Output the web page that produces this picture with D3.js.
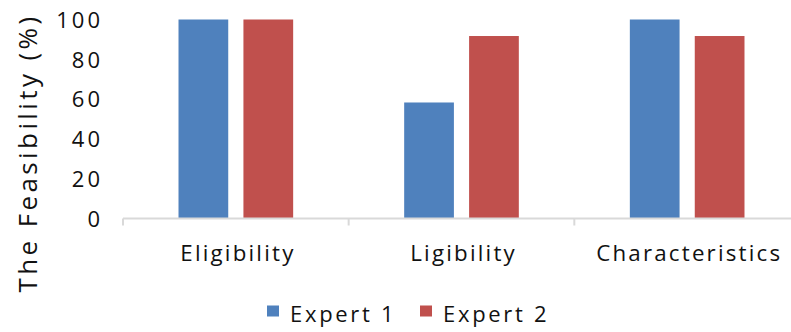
<!DOCTYPE html>
<html>
<head>
<meta charset="utf-8">
<script src="https://cdn.jsdelivr.net/npm/d3@7"></script>
<style>
  html, body { margin: 0; padding: 0; background: #fff; }
  svg { display: block; }
  text { font-family: "Open Sans", "Noto Sans", sans-serif; fill: #111; }
</style>
</head>
<body>
<div id="chart"></div>
<script>
// Feasibility ratings given by two experts for each criterion
const categories = ["Eligibility", "Ligibility", "Characteristics"];
const seriesNames = ["Expert 1", "Expert 2"];
const expert1 = [100, 58.3, 100];
const expert2 = [100, 91.7, 91.7];
const yTicks = [0, 20, 40, 60, 80, 100];
const colors = ["#4F81BD", "#C0504D"];

const W = 791, H = 332;
const svg = d3.select("#chart").append("svg")
  .attr("width", W).attr("height", H);

const x0 = d3.scaleBand().domain(categories).range([123, 800]).paddingInner(0).paddingOuter(0);
const x1 = d3.scaleBand().domain(seriesNames).range([0, x0.bandwidth()])
  .paddingInner(0.234).paddingOuter(0.855);
const y = d3.scaleLinear().domain([0, 100]).range([218.5, 19.5]);

const rows = categories.map((c, i) => ({ cat: c, vals: [expert1[i], expert2[i]] }));

// bars
const g = svg.append("g");
rows.forEach(r => {
  r.vals.forEach((v, j) => {
    g.append("rect")
      .attr("x", x0(r.cat) + x1(seriesNames[j]))
      .attr("y", y(v))
      .attr("width", x1.bandwidth())
      .attr("height", y(0) - y(v))
      .attr("fill", colors[j]);
  });
});

// x axis line with category separators
const xAxis = svg.append("g").attr("transform", `translate(0,${y(0)})`)
  .call(d3.axisBottom(x0).tickSize(0).tickFormat(""));
xAxis.select(".domain").attr("stroke", "#D9D9D9").attr("stroke-width", 2)
  .attr("d", `M${x0.range()[0]},0H${x0.range()[1]}`);
const sep = categories.map(c => x0(c));
xAxis.selectAll(".sep").data(sep).join("line")
  .attr("x1", d => d).attr("x2", d => d).attr("y1", 0).attr("y2", 7)
  .attr("stroke", "#D9D9D9").attr("stroke-width", 2);

// category labels
const catLS = 2.2;
svg.append("g").selectAll("text").data(categories).join("text")
  .attr("x", d => x0(d) + x0.bandwidth() / 2 + catLS / 2 + 1)
  .attr("y", 261)
  .attr("text-anchor", "middle")
  .style("font-size", "22.3px")
  .style("letter-spacing", catLS + "px")
  .text(d => d);

// y tick labels (no axis line)
const tickLS = 3;
const yAxis = svg.append("g").attr("transform", `translate(${100 + tickLS},0)`)
  .call(d3.axisLeft(y).tickValues(yTicks).tickSize(0).tickPadding(0));
yAxis.select(".domain").remove();
yAxis.selectAll("text")
  .style("font-size", "22px")
  .style("letter-spacing", tickLS + "px")
  .style("font-family", "'Open Sans', sans-serif")
  .attr("fill", "#111")
  .attr("dy", "0.35em");

// y axis title
svg.append("text")
  .attr("transform", `translate(37,${153}) rotate(-90)`)
  .attr("text-anchor", "middle")
  .style("font-size", "26px")
  .style("letter-spacing", "3.4px")
  .text("The Feasibility (%)");

// legend
const legendItems = [{ name: seriesNames[0], x: 267 }, { name: seriesNames[1], x: 420 }];
const lg = svg.append("g");
legendItems.forEach((d, i) => {
  lg.append("rect").attr("x", d.x).attr("y", 305.5).attr("width", 12).attr("height", 11)
    .attr("fill", colors[i]);
  lg.append("text").attr("x", d.x + 23).attr("y", 322)
    .style("font-size", "22px").style("letter-spacing", "2.7px")
    .text(d.name);
});
</script>
</body>
</html>
